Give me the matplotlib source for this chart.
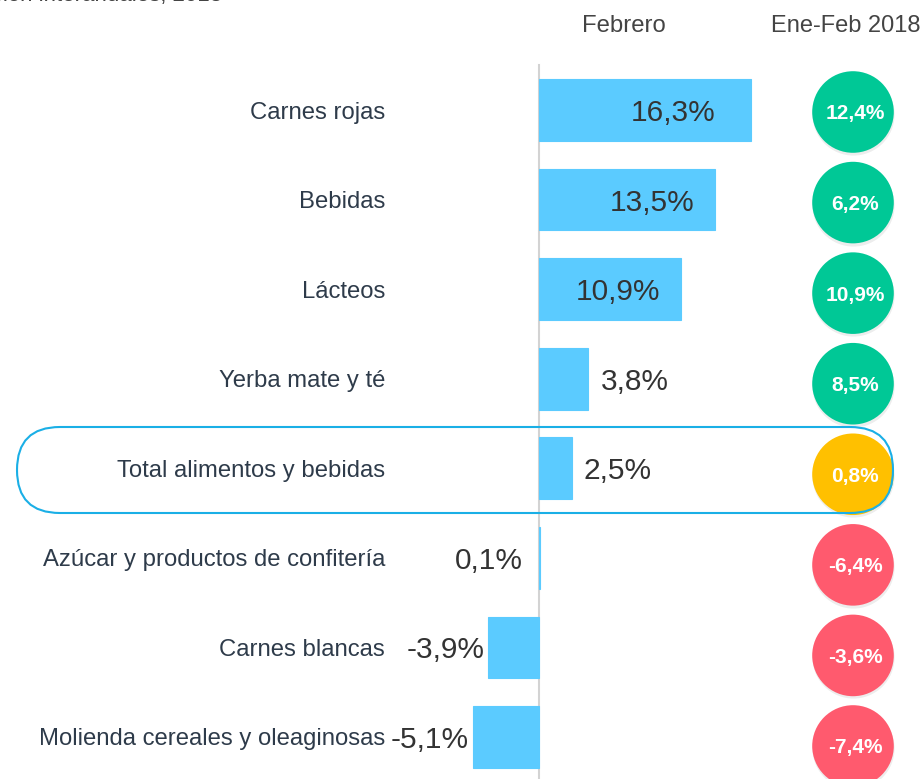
import matplotlib
matplotlib.use("Agg")
import matplotlib.pyplot as plt
from matplotlib.patches import FancyBboxPatch
import matplotlib.transforms as mtransforms

plt.rcParams['font.family'] = ['Liberation Sans', 'DejaVu Sans']

categories = ["Carnes rojas", "Bebidas", "Lácteos", "Yerba mate y té",
              "Total alimentos y bebidas", "Azúcar y productos de confitería",
              "Carnes blancas", "Molienda cereales y oleaginosas"]
febrero = [16.3, 13.5, 10.9, 3.8, 2.5, 0.1, -3.9, -5.1]
ene_feb = [12.4, 6.2, 10.9, 8.5, 0.8, -6.4, -3.6, -7.4]
total_label = "Total alimentos y bebidas"
header_left = "Febrero"
header_right = "Ene-Feb 2018"
title = "Variación interanuales, 2018"

W, H = 923, 779
DPI = 100
fig = plt.figure(figsize=(W / DPI, H / DPI), dpi=DPI)

# pixel geometry
x0_px = 539.0
px_per_pct = 13.0
row0_px, row_step = 110.0, 89.57
xlim = (-x0_px / px_per_pct, (W - x0_px) / px_per_pct)

ax = fig.add_axes([0, 0, 1, 1])
ax.set_xlim(*xlim)
n = len(categories)
ax.set_ylim(n - 1 + (H - (row0_px + (n - 1) * row_step)) / row_step, -row0_px / row_step)
ax.axis('off')

ys = list(range(n))
bar_color = '#5BCBFF'
ax.axvline(0, ymin=0, ymax=1 - 65 / H, color='#d3d3d3', lw=1.5, zorder=1)
ax.barh(ys, febrero, height=0.69, color=bar_color, zorder=2,
        edgecolor=bar_color, linewidth=0.8)

def fmt(v):
    return f"{v:.1f}%".replace('.', ',')

pct_per_px = 1 / px_per_pct
vfs = 21.5
VA = 'center_baseline'
for y, v in zip(ys, febrero):
    if v > 8:
        off = -(35 if v > 15 else 20) * pct_per_px
        ax.text(v + off, y, fmt(v), ha='right', va=VA, fontsize=vfs, color='#333333', zorder=4)
    elif v > 0.5:
        ax.text(v + 12 * pct_per_px, y, fmt(v), ha='left', va=VA, fontsize=vfs, color='#333333', zorder=4)
    else:
        off = -(16 if v > 0 else 4) * pct_per_px
        ax.text(min(v, 0) + off, y, fmt(v), ha='right', va=VA, fontsize=vfs, color='#333333', zorder=4)

label_x = (385 - x0_px) / px_per_pct
for y, c in zip(ys, categories):
    ax.text(label_x, y, c, ha='right', va=VA, fontsize=17.2, color='#2E3B4A', zorder=4)

# highlight box for total row
box = FancyBboxPatch((0.17, (H - 513) / DPI), (893 - 17) / DPI, 0.86,
                     boxstyle="round,pad=0,rounding_size=0.43",
                     transform=fig.dpi_scale_trans, fill=False,
                     edgecolor='#1AAFE6', lw=1.5, zorder=6)
fig.patches.append(box)

# circles axis
ax2 = fig.add_axes([0, 0, 1, 1])
ax2.set_xlim(*xlim)
c0, cstep = 112.0, 90.57
ax2.set_ylim(n - 1 + (H - (c0 + (n - 1) * cstep)) / cstep, -c0 / cstep)
ax2.axis('off')
ax2.patch.set_alpha(0)

def circ_color(v, is_total):
    if is_total:
        return '#FFC000'
    return '#00C896' if v > 0 else '#FF5A6E'

cx = (853 - x0_px) / px_per_pct
cols = [circ_color(v, c == total_label) for v, c in zip(ene_feb, categories)]
shadow = mtransforms.offset_copy(ax2.transData, fig=fig, x=0, y=-2, units='dots')
ax2.scatter([cx] * n, ys, s=3500, color='#000000', alpha=0.07, transform=shadow, zorder=2, linewidths=0)
ax2.scatter([cx] * n, ys, s=3450, color=cols, zorder=3, linewidths=0)
for y, v in zip(ys, ene_feb):
    ax2.text(cx + 2 * pct_per_px, y, fmt(v), ha='center', va=VA, fontsize=15,
             fontweight='bold', color='white', zorder=5)

# headers
fig.text(624 / W, 1 - 23 / H, header_left, ha='center', va=VA, fontsize=17.2, color='#444444')
fig.text(846 / W, 1 - 23 / H, header_right, ha='center', va=VA, fontsize=17, color='#444444')
fig.text(222 / W, 1 - 1.5 / H, title, ha='right', va='baseline', fontsize=16, color='#444444')

fig.savefig('out.png', dpi=DPI)
